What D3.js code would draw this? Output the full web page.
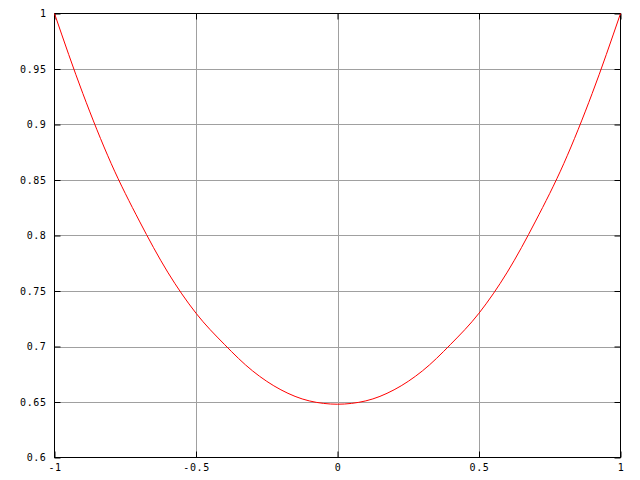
<!DOCTYPE html>
<html><head><meta charset="utf-8">
<script src="https://cdn.jsdelivr.net/npm/d3@7"></script>
<style>body{margin:0;background:#fff}svg{display:block}text{font-family:"DejaVu Sans Mono",monospace;font-size:10px;letter-spacing:0.6px}</style>
</head><body>
<script>
const xValues = [-1,-0.9,-0.8,-0.7,-0.6,-0.5,-0.4,-0.3,-0.2,-0.1,0,0.1,0.2,0.3,0.4,0.5,0.6,0.7,0.8,0.9,1];
const yValues = [1.0,0.928,0.865,0.813,0.767,0.730,0.702,0.678,0.661,0.651,0.648,0.651,0.661,0.678,0.702,0.730,0.767,0.813,0.865,0.928,1.0];
const xTicks = [-1,-0.5,0,0.5,1];
const xTickLabels = ["-1","-0.5","0","0.5","1"];
const yTicks = [0.6,0.65,0.7,0.75,0.8,0.85,0.9,0.95,1];
const yTickLabels = ["0.6","0.65","0.7","0.75","0.8","0.85","0.9","0.95","1"];

const W=640,H=480, L=54.5, R=620.5, T=13.5, B=457.5;
const svg=d3.select("body").append("svg").attr("width",W).attr("height",H);
const x=d3.scaleLinear().domain([-1,1]).range([L,R]);
const y=d3.scaleLinear().domain([0.6,1]).range([B,T]);

// grid
svg.append("g").selectAll("line").data(xTicks.slice(1,-1)).join("line")
 .attr("x1",d=>Math.round(x(d))+0.5).attr("x2",d=>Math.round(x(d))+0.5).attr("y1",T).attr("y2",B)
 .attr("stroke","#a0a0a0");
svg.append("g").selectAll("line").data(yTicks.slice(1,-1)).join("line")
 .attr("y1",d=>Math.round(y(d))+0.5).attr("y2",d=>Math.round(y(d))+0.5).attr("x1",L).attr("x2",R)
 .attr("stroke","#a0a0a0");

// axes with inward ticks
const tl=6;
const ax=d3.axisBottom(x).tickValues(xTicks).tickSize(-tl).tickFormat((d,i)=>xTickLabels[i]).tickPadding(10);
const gb=svg.append("g").attr("transform",`translate(0,${B})`).call(ax);
const gt=svg.append("g").attr("transform",`translate(0,${T})`).call(d3.axisTop(x).tickValues(xTicks).tickSize(-tl).tickFormat(""));
const ay=d3.axisLeft(y).tickValues(yTicks).tickSize(-tl).tickFormat((d,i)=>yTickLabels[i]).tickPadding(14);
const gl=svg.append("g").attr("transform",`translate(${L},0)`).call(ay);
const gr=svg.append("g").attr("transform",`translate(${R},0)`).call(d3.axisRight(y).tickValues(yTicks).tickSize(-tl).tickFormat(""));
[gb,gt,gl,gr].forEach(g=>{
  g.select(".domain").remove();
  g.selectAll(".tick line").attr("stroke","#000");
  g.selectAll("text").attr("fill","#000").style("font-family","DejaVu Sans Mono").style("font-size","10px");
});
gb.selectAll(".tick text").attr("dy","0.35em").attr("y",10);
gl.selectAll(".tick text").attr("x",-8);

// border
svg.append("rect").attr("x",L).attr("y",T).attr("width",R-L).attr("height",B-T)
 .attr("fill","none").attr("stroke","#000");

// curve
const pts=xValues.map((d,i)=>[d,yValues[i]]);
svg.append("path").datum(pts)
 .attr("d",d3.line().x(d=>x(d[0])).y(d=>y(d[1])).curve(d3.curveMonotoneX))
 .attr("fill","none").attr("stroke","#ff0000").attr("stroke-width",1);
</script>
</body></html>
